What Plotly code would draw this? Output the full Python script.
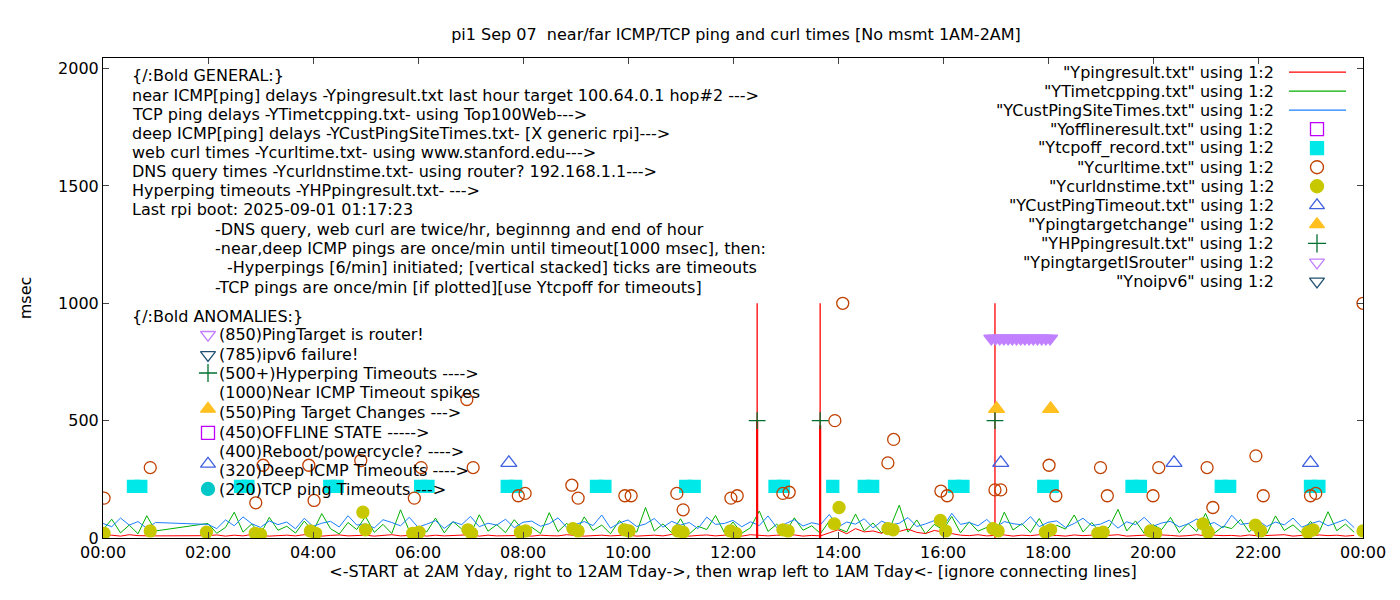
import plotly.graph_objects as go

# time grid in hours (10 minute samples); 1AM-2AM has no measurements
grid_t = [i / 6 for i in range(144) if not (7 <= i <= 11)]

blue_v = [62, 48, 85, 55, 70, 41, 66,
          58, 40, 77, 52, 90, 61, 45, 73, 57, 68, 39, 84, 50, 63, 71, 47, 95, 55, 60, 43, 78, 66, 52,
          88, 46, 59, 74, 41, 69, 57, 92, 48, 63, 55, 80, 44, 67, 72, 50, 61, 86, 45, 58, 70, 53, 98, 42,
          64, 77, 49, 60, 83, 46, 71, 55, 66, 40, 89, 58, 62, 75, 48, 69, 53, 94, 44, 61, 78, 51, 65, 57,
          100, 47, 68, 59, 82, 43, 72, 55, 63, 87, 49, 60, 74, 46, 105, 58, 66, 52, 79, 44, 70, 61, 56,
          91, 48, 67, 73, 45, 62, 84, 53, 59, 76, 42, 69, 57, 88, 50, 64, 71, 47, 60, 81, 55, 66, 43,
          97, 58, 63, 74, 49, 68, 56, 85, 46, 61, 72, 52, 65, 79, 44, 59, 70, 54, 62]
green_v = [35, 80, 22, 55, 18, 95, 30,
           62, 20, 45, 110, 25, 60, 15, 88, 33, 50, 21, 72, 28, 104, 40, 17, 66, 36, 92, 24, 58, 19,
           120, 31, 48, 26, 85, 22, 70, 38, 16, 99, 29, 57, 23, 78, 34, 46, 19, 108, 27, 63, 21, 90,
           32, 55, 18, 74, 40, 25, 130, 30, 60, 22, 82, 17, 50, 36, 96, 24, 68, 20, 44, 115, 28, 59,
           23, 86, 33, 52, 19, 72, 41, 26, 102, 30, 64, 21, 48, 140, 25, 77, 18, 58, 35, 92, 22, 69,
           29, 45, 20, 110, 34, 61, 24, 83, 17, 54, 38, 98, 26, 66, 21, 47, 122, 30, 73, 19, 57, 36,
           88, 23, 62, 28, 105, 20, 50, 40, 79, 25, 67, 18, 94, 32, 56, 22, 71, 27, 112, 31, 59, 24]
red_v = [9, 12, 8, 14, 10, 11, 9,
         10, 13, 8, 12, 9, 15, 11, 8, 10, 12, 9, 14, 10, 8, 11, 13, 9, 10, 12, 8, 11, 14, 9,
         10, 13, 8, 12, 9, 11, 10, 14, 8, 12, 9, 10, 13, 11, 8, 12, 10, 9, 14, 11, 8, 10, 12, 9,
         11, 13, 8, 10, 12, 9, 15, 10, 8, 11, 13, 9, 12, 10, 8, 14, 11, 9, 12, 10, 13, 8, 11, 9,
         22, 35, 18, 40, 26, 30, 20, 45, 28, 38, 24, 19, 32, 25, 16, 12, 10, 14, 9, 11, 13, 8,
         12, 10, 14, 9, 11, 8, 13, 10, 12, 9, 11, 14, 8, 10, 12, 9, 13, 11, 8, 10, 14, 9, 12, 10,
         11, 8, 13, 9, 10, 12, 14, 8, 11, 9, 13, 10, 12, 8, 11, 9, 14, 10, 12]

spike_t = [12.46, 13.66, 16.99]
spike_v = [1000, 1000, 1000]
spike_base_v = [500, 480, 0]

tcpoff_t = [0.58, 0.72, 2.62, 2.76, 4.32, 4.46, 6.05, 6.19, 7.7, 7.86, 9.4, 9.56, 11.1, 11.26,
            12.8, 12.96, 13.9, 14.5, 14.66, 16.22, 16.38, 17.92, 18.08, 19.6, 19.76, 21.3, 21.46, 23.0, 23.16]
tcpoff_v = [220] * len(tcpoff_t)

curl_t = [0.02, 0.9, 2.91, 3.05, 4.02, 3.92, 4.91, 5.93, 6.06, 6.93, 7.05, 7.91, 8.04, 8.93, 9.05,
          9.94, 10.06, 10.93, 11.05, 11.96, 12.08, 12.95, 13.07, 13.94, 14.09, 15.06, 14.95, 15.96, 16.08,
          16.99, 17.1, 18.02, 18.15, 19.0, 19.13, 20.0, 20.11, 21.03, 21.14, 21.96, 22.1, 23.0, 23.1, 24.0]
curl_v = [170, 300, 150, 310, 160, 310, 330, 170, 300, 590, 300, 180, 190, 225, 170,
          180, 180, 190, 120, 170, 180, 190, 195, 500, 1000, 420, 320, 200, 180,
          205, 205, 310, 180, 300, 180, 180, 300, 300, 130, 350, 180, 180, 190, 1000]

dns_t = [0.02, 0.9, 1.97, 2.9, 3.0, 3.95, 4.05, 4.95, 5.0, 5.9, 6.02, 6.95, 7.02, 7.95, 8.05,
         8.95, 9.05, 9.93, 10.02, 10.95, 11.05, 11.95, 12.05, 12.95, 13.05, 13.93, 14.02, 14.95, 15.05,
         15.95, 16.05, 16.95, 17.05, 17.95, 18.05, 18.95, 19.05, 19.95, 20.05, 20.95, 21.05, 21.95, 22.05,
         22.95, 23.05, 24.0]
dns_v = [20, 30, 25, 20, 15, 30, 20, 110, 35, 20, 25, 35, 20, 25, 30,
         40, 30, 35, 30, 30, 25, 30, 20, 35, 30, 60, 130, 40, 35,
         75, 30, 40, 30, 25, 35, 20, 25, 30, 20, 60, 25, 55, 30,
         25, 35, 30]

deep_to_t = [7.73, 17.1, 20.4, 23.0]
deep_to_v = [320, 320, 320, 320]

target_chg_t = [17.02, 18.05]
target_chg_v = [550, 550]

hping_t = [12.46, 13.66, 16.99]
hping_v = [500, 500, 500]

router_t = [16.92, 17.0, 17.08, 17.16, 17.24, 17.32, 17.4, 17.48, 17.56, 17.64, 17.72, 17.8, 17.88, 17.96, 18.04]
router_v = [850] * len(router_t)

# key markers drawn next to the anomaly notes at 02:00
key_t = [2.0, 2.0, 2.0, 2.0, 2.0, 2.0, 2.0]
key_v = [866, 780, 703, 550, 448, 316, 209]

hour_ticks = [0, 2, 4, 6, 8, 10, 12, 14, 16, 18, 20, 22, 24]
hour_labels = ["%02d:00" % (h % 24) for h in hour_ticks]

RED, GREEN, BLUE = "#ff0000", "#00b000", "#1a7fff"
FONT = "DejaVu Sans"
FS = 16

fig = go.Figure()
fig.add_trace(go.Scatter(x=grid_t, y=green_v, mode="lines", line=dict(color=GREEN, width=1)))
fig.add_trace(go.Scatter(x=grid_t, y=blue_v, mode="lines", line=dict(color=BLUE, width=1)))
fig.add_trace(go.Scatter(x=grid_t, y=red_v, mode="lines", line=dict(color=RED, width=1)))
sx, sy, bx, by = [], [], [], []
for t, v, b in zip(spike_t, spike_v, spike_base_v):
    sx += [t, t, None]
    sy += [0, v, None]
    bx += [t, t, None]
    by += [0, b, None]
fig.add_trace(go.Scatter(x=sx, y=sy, mode="lines", line=dict(color=RED, width=1.3)))
fig.add_trace(go.Scatter(x=bx, y=by, mode="lines", line=dict(color=RED, width=2.2)))

def pts(x, y, symbol, color, size, lw=1.3):
    fig.add_trace(go.Scatter(x=x, y=y, mode="markers",
                             marker=dict(symbol=symbol, color=color, size=size,
                                         line=dict(color=color, width=lw))))

pts(tcpoff_t, tcpoff_v, "square", "#00e8e8", 12)
pts(curl_t, curl_v, "circle-open", "#c04000", 12)
pts(dns_t, dns_v, "circle", "#c8c800", 12)
pts(deep_to_t, deep_to_v, "triangle-up-open", "#4060e0", 14)
pts(target_chg_t, target_chg_v, "triangle-up", "#ffc020", 14)
pts(hping_t, hping_v, "cross-thin-open", "#007030", 12)
pts(router_t, router_v, "triangle-down", "#c080ff", 13)
key_sym = ["triangle-down-open", "triangle-down-open", "cross-thin-open", "triangle-up",
           "square-open", "triangle-up-open", "circle"]
key_col = ["#c080ff", "#205070", "#007030", "#ffc020", "#c000ff", "#4060e0", "#00c8c8"]
fig.add_trace(go.Scatter(x=key_t, y=key_v, mode="markers",
                         marker=dict(symbol=key_sym, color=key_col, size=13,
                                     line=dict(color=key_col, width=1.3))))

# pixel helpers for the plot area (102..1362 x 58..537)
def px(x):
    return (x - 102) / 1260

def py(y):
    return (537 - y) / 479

notes = [
    (129, 75, "{/:Bold GENERAL:}"),
    (129, 95, "near ICMP[ping] delays -Ypingresult.txt last hour target 100.64.0.1 hop#2 --->"),
    (129, 114, "TCP ping delays -YTimetcpping.txt- using Top100Web--->"),
    (129, 133, "deep ICMP[ping] delays -YCustPingSiteTimes.txt- [X generic rpi]--->"),
    (129, 152, "web curl times -Ycurltime.txt- using www.stanford.edu--->"),
    (129, 171, "DNS query times -Ycurldnstime.txt- using router? 192.168.1.1--->"),
    (129, 190, "Hyperping timeouts -YHPpingresult.txt- --->"),
    (129, 209, "Last rpi boot: 2025-09-01 01:17:23"),
    (212, 229, "-DNS query, web curl are twice/hr, beginnng and end of hour"),
    (212, 248, "-near,deep ICMP pings are once/min until timeout[1000 msec], then:"),
    (224, 267, "-Hyperpings [6/min] initiated; [vertical stacked] ticks are timeouts"),
    (212, 287, "-TCP pings are once/min [if plotted][use Ytcpoff for timeouts]"),
    (129, 316, "{/:Bold ANOMALIES:}"),
    (216, 334, "(850)PingTarget is router!"),
    (216, 354, "(785)ipv6 failure!"),
    (216, 373, "(500+)Hyperping Timeouts ---->"),
    (216, 392, "(1000)Near ICMP Timeout spikes"),
    (216, 412, "(550)Ping Target Changes --->"),
    (216, 432, "(450)OFFLINE STATE ----->"),
    (216, 451, "(400)Reboot/powercycle? ---->"),
    (216, 470, "(320)Deep ICMP Timeouts ---->"),
    (216, 489, "(220)TCP ping Timeouts --->"),
]
for x, y, s in notes:
    fig.add_annotation(x=px(x), y=py(y), xref="paper", yref="paper", text=s, showarrow=False,
                       xanchor="left", yanchor="middle", font=dict(size=FS, color="#000"))

legend_rows = [
    ('"Ypingresult.txt" using 1:2', "line", RED),
    ('"YTimetcpping.txt" using 1:2', "line", GREEN),
    ('"YCustPingSiteTimes.txt" using 1:2', "line", BLUE),
    ('"Yofflineresult.txt" using 1:2', "square-open", "#c000ff"),
    ('"Ytcpoff_record.txt" using 1:2', "square", "#00e8e8"),
    ('"Ycurltime.txt" using 1:2', "circle-open", "#c04000"),
    ('"Ycurldnstime.txt" using 1:2', "circle", "#c8c800"),
    ('"YCustPingTimeout.txt" using 1:2', "triangle-up-open", "#4060e0"),
    ('"Ypingtargetchange" using 1:2', "triangle-up", "#ffc020"),
    ('"YHPpingresult.txt" using 1:2', "cross-thin-open", "#007030"),
    ('"YpingtargetISrouter" using 1:2', "triangle-down-open", "#c080ff"),
    ('"Ynoipv6" using 1:2', "triangle-down-open", "#205070"),
]
mk_x, mk_y, mk_s, mk_c = [], [], [], []
for i, (label, kind, col) in enumerate(legend_rows):
    yy = 72 + i * 19.0
    fig.add_annotation(x=px(1275), y=py(yy), xref="paper", yref="paper", text=label,
                       showarrow=False, xanchor="right", yanchor="middle",
                       font=dict(size=FS, color="#000"))
    if kind == "line":
        fig.add_shape(type="line", xref="paper", yref="paper", x0=px(1288), x1=px(1345),
                      y0=py(yy), y1=py(yy), line=dict(color=col, width=1.3))
    else:
        mk_x.append(px(1316)); mk_y.append(py(yy)); mk_s.append(kind); mk_c.append(col)
fig.add_trace(go.Scatter(x=mk_x, y=mk_y, xaxis="x2", yaxis="y2", mode="markers",
                         marker=dict(symbol=mk_s, color=mk_c, size=13, line=dict(color=mk_c, width=1.3))))

fig.update_layout(
    width=1400, height=600, plot_bgcolor="white", paper_bgcolor="white",
    margin=dict(l=95, r=45, t=50, b=70), showlegend=False,
    font=dict(family=FONT, size=FS, color="#000"),
    title=dict(text="pi1 Sep 07  near/far ICMP/TCP ping and curl times [No msmt 1AM-2AM]",
               x=0.52, xanchor="center", y=0.965, font=dict(size=FS)),
    xaxis=dict(range=[0, 24], tickvals=hour_ticks, ticktext=hour_labels, showgrid=False,
               zeroline=False, showline=True, linecolor="#000", mirror="ticks", ticks="inside",
               ticklen=6, title=dict(text="<-START at 2AM Yday, right to 12AM Tday->, then wrap left to 1AM Tday<- [ignore connecting lines]",
                                     standoff=4, font=dict(size=FS))),
    yaxis=dict(range=[0, 2045], tickvals=[0, 500, 1000, 1500, 2000], showgrid=False,
               zeroline=False, showline=True, linecolor="#000", mirror="ticks", ticks="inside",
               ticklen=6, title=dict(text="msec", standoff=22, font=dict(size=FS))),
    xaxis2=dict(range=[0, 1], overlaying="x", visible=False),
    yaxis2=dict(range=[0, 1], overlaying="y", visible=False),
)
fig.write_html("out.html")
